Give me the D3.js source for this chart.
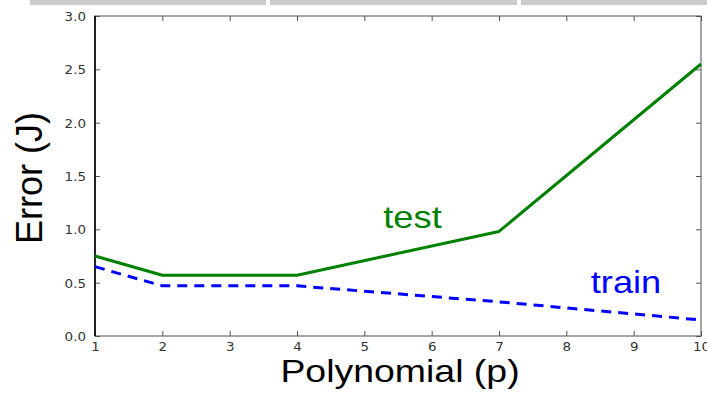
<!DOCTYPE html>
<html>
<head>
<meta charset="utf-8">
<script src="https://cdn.jsdelivr.net/npm/d3@7"></script>
<style>
  html, body { margin: 0; padding: 0; background: #fff; }
  svg { display: block; }
</style>
</head>
<body>
<svg id="chart" width="707" height="393"></svg>
<script>
// Error versus polynomial degree for the training and test sets
const degrees = [1, 2, 4, 7, 10];
const testError = [0.75, 0.57, 0.57, 0.98, 2.55];
const trainError = [0.65, 0.47, 0.47, 0.32, 0.15];
const xTicks = [1, 2, 3, 4, 5, 6, 7, 8, 9, 10];
const yTicks = [0.0, 0.5, 1.0, 1.5, 2.0, 2.5, 3.0];

const svg = d3.select("#chart");
const W = 707, H = 393;
const m = { left: 95, right: 6, top: 16, bottom: 57 };
const stretch = 1.17; // text is drawn slightly widened

// thin grey header strip
const strips = [[30, 266], [270, 517], [521, 707]];
svg.selectAll("rect.strip").data(strips).join("rect")
  .attr("class", "strip")
  .attr("x", d => d[0]).attr("y", 0)
  .attr("width", d => d[1] - d[0]).attr("height", 5)
  .attr("fill", "#cccccc");

const x = d3.scaleLinear().domain([1, 10]).range([m.left, W - m.right]);
const y = d3.scaleLinear().domain([0, 3]).range([H - m.bottom, m.top]);

const tickFont = "DejaVu Sans, sans-serif";

// frame
svg.append("rect")
  .attr("x", x(1)).attr("y", y(3))
  .attr("width", x(10) - x(1)).attr("height", y(0) - y(3))
  .attr("fill", "none").attr("stroke", "#777").attr("stroke-width", 1.3);

// bottom / top / left / right axes, ticks pointing inward
const xb = svg.append("g").attr("transform", `translate(0,${y(0)})`)
  .call(d3.axisBottom(x).tickValues(xTicks).tickFormat(d3.format("d")).tickSizeInner(-5).tickSizeOuter(0).tickPadding(7));
const xt = svg.append("g").attr("transform", `translate(0,${y(3)})`)
  .call(d3.axisTop(x).tickValues(xTicks).tickFormat("").tickSizeInner(-5).tickSizeOuter(0));
const yl = svg.append("g").attr("transform", `translate(${x(1)},0)`)
  .call(d3.axisLeft(y).tickValues(yTicks).tickFormat(d3.format(".1f")).tickSizeInner(-5).tickSizeOuter(0).tickPadding(9));
const yr = svg.append("g").attr("transform", `translate(${x(10)},0)`)
  .call(d3.axisRight(y).tickValues(yTicks).tickFormat("").tickSizeInner(-5).tickSizeOuter(0));

[xb, xt, yl, yr].forEach(g => {
  g.select(".domain").remove();
  g.selectAll(".tick line").attr("stroke", "#555").attr("stroke-width", 1);
  g.selectAll(".tick text").attr("font-family", tickFont).attr("font-size", 11.5).attr("fill", "#333");
});
xb.selectAll(".tick text").attr("transform", `scale(${stretch},1)`);
yl.selectAll(".tick text")
  .attr("dy", "0.4em")
  .attr("x", 0)
  .attr("transform", `translate(-9,0) scale(${stretch},1)`);

// left spine drawn darker
svg.append("line")
  .attr("x1", x(1)).attr("x2", x(1)).attr("y1", y(3)).attr("y2", y(0))
  .attr("stroke", "#000").attr("stroke-width", 1.6);

const line = d3.line().x(d => x(d[0])).y(d => y(d[1]));

svg.append("path")
  .datum(degrees.map((d, i) => [d, testError[i]]))
  .attr("d", line).attr("fill", "none")
  .attr("stroke", "#008000").attr("stroke-width", 3).attr("stroke-linejoin", "round");

svg.append("path")
  .datum(degrees.map((d, i) => [d, trainError[i]]))
  .attr("d", line).attr("fill", "none")
  .attr("stroke", "#0000ff").attr("stroke-width", 3).attr("stroke-dasharray", "10,7");

const labelFont = "Liberation Sans, Arial, sans-serif";

function wideText(txt, cx, baseline, size, color) {
  svg.append("text").text(txt)
    .attr("transform", `translate(${cx},${baseline}) scale(${stretch},1)`)
    .attr("text-anchor", "middle")
    .attr("font-family", labelFont).attr("font-size", size).attr("fill", color);
}

wideText("test", 412.5, 228, 31, "#008000");
wideText("train", 626, 293, 31, "#0000ff");
wideText("Polynomial (p)", 400, 382, 32, "#000");

svg.append("text").text("Error (J)")
  .attr("transform", `translate(42,178) rotate(-90)`)
  .attr("text-anchor", "middle")
  .attr("font-family", labelFont).attr("font-size", 36).attr("fill", "#000");
</script>
</body>
</html>
